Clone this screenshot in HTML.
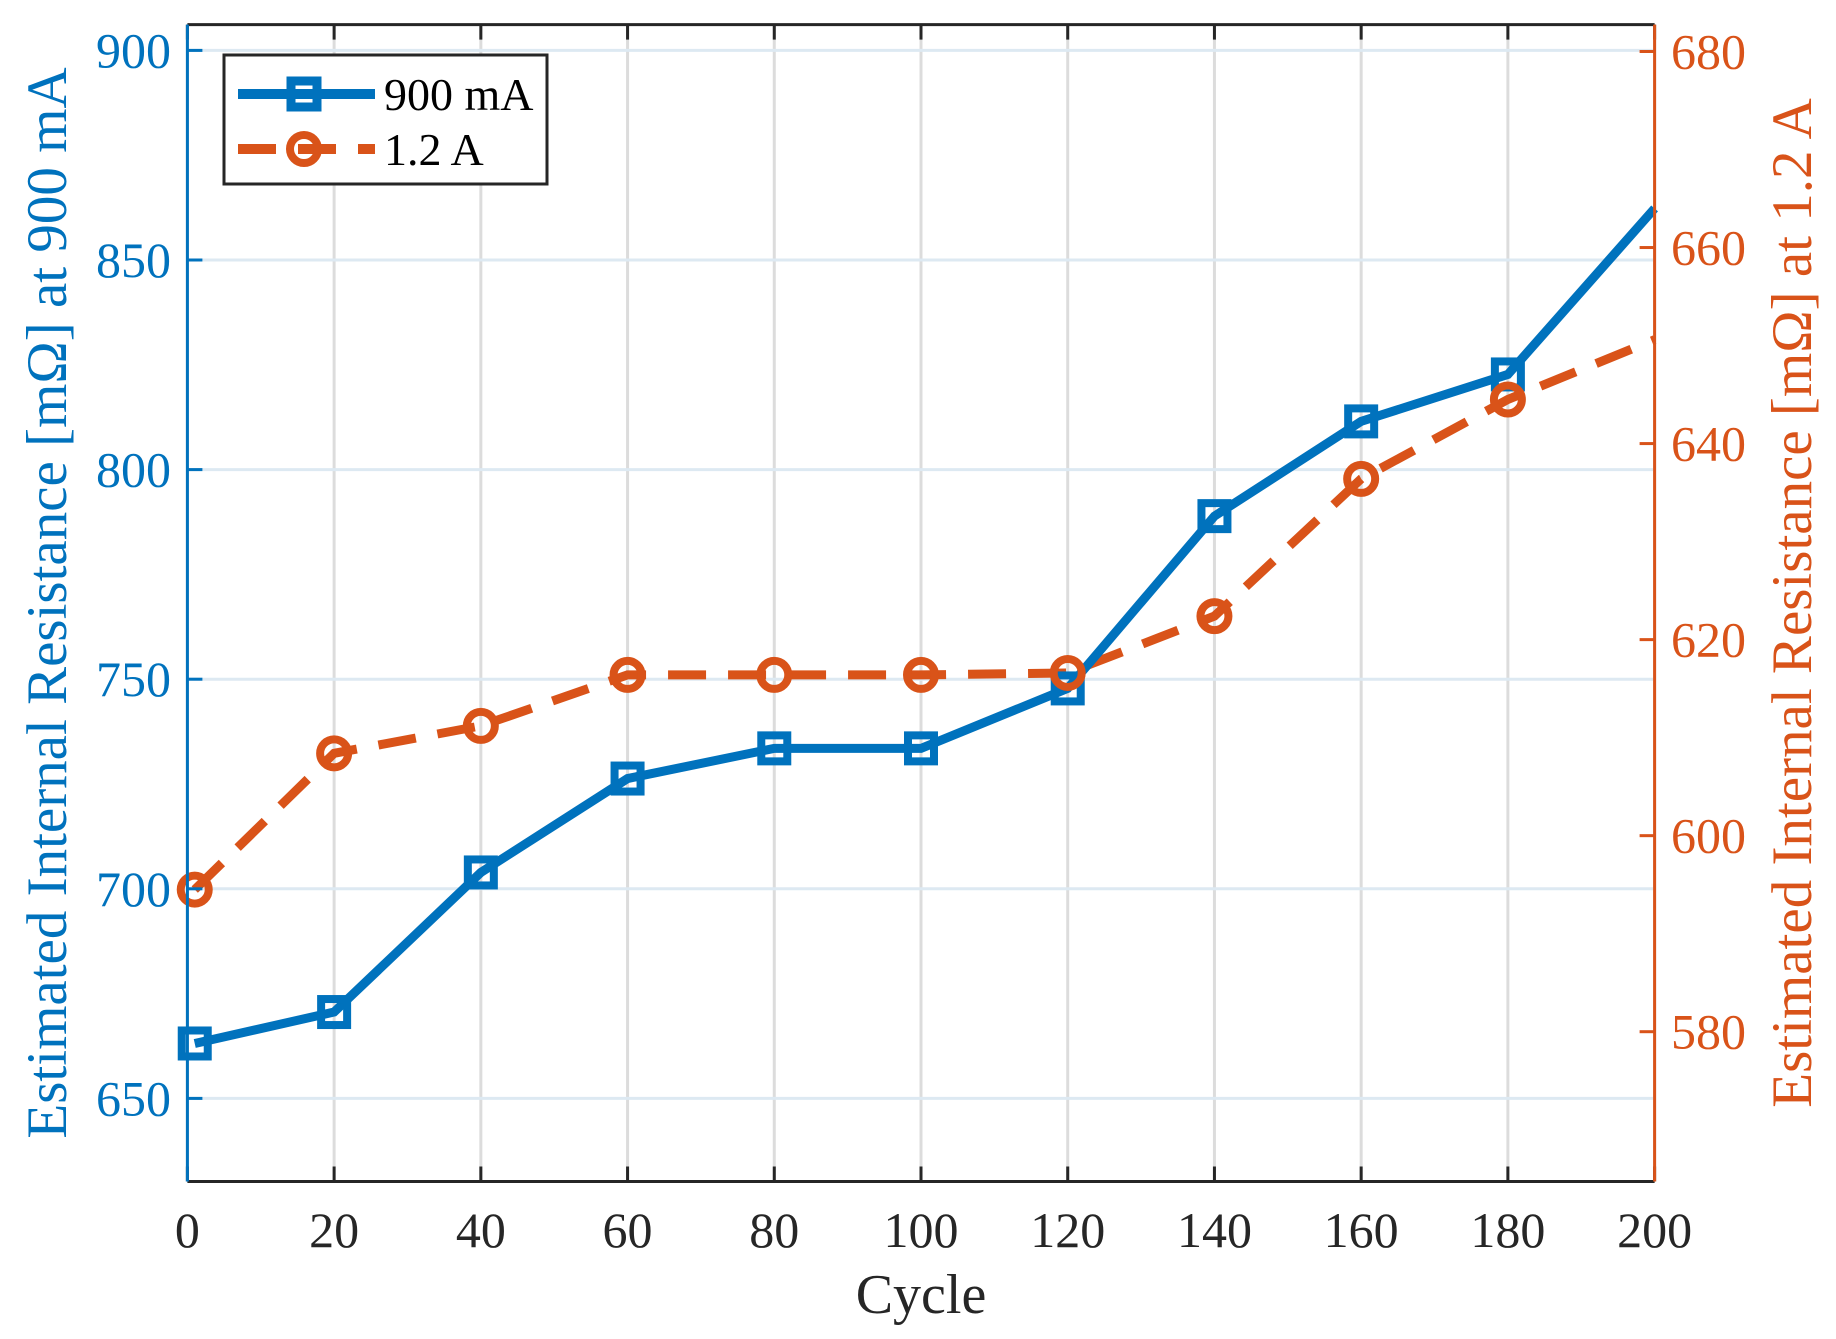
<!DOCTYPE html>
<html><head><meta charset="utf-8"><style>
html,body{margin:0;padding:0;background:#fff;}
svg{display:block;font-family:"Liberation Serif","DejaVu Serif",serif;}
</style></head><body>
<svg id="chart" width="1836" height="1339" viewBox="0 0 1836 1339" xmlns="http://www.w3.org/2000/svg">
<g id="grid"></g>
<g id="series"></g>
<g id="axes"></g>
<text x="921" y="1313" font-size="56" fill="#262626" text-anchor="middle">Cycle</text>
<text transform="translate(66,603) rotate(-90)" font-size="57" fill="#0072BD" text-anchor="middle">Estimated Internal Resistance [mΩ] at 900 mA</text>
<text transform="translate(1811,603) rotate(-90)" font-size="57" fill="#D95319" text-anchor="middle">Estimated Internal Resistance [mΩ] at 1.2 A</text>
<g>
<rect x="224" y="55" width="323" height="129" fill="#fff" stroke="#262626" stroke-width="3"/>
<line x1="238" y1="94" x2="375" y2="94" stroke="#0072BD" stroke-width="10"/>
<rect x="291" y="81" width="26" height="26" fill="none" stroke="#0072BD" stroke-width="9"/>
<text x="384" y="110" font-size="46" fill="#000">900 mA</text>
<line x1="238" y1="149" x2="375" y2="149" stroke="#D95319" stroke-width="10" stroke-dasharray="38,22"/>
<circle cx="304" cy="149" r="14" fill="none" stroke="#D95319" stroke-width="8"/>
<text x="384" y="165" font-size="46" fill="#000">1.2 A</text>
</g>
</svg>
<script>
const cycles=[1,20,40,60,80,100,120,140,160,180,200];
const r900=[663.1,670.6,703.9,726.3,733.5,733.5,747.8,788.9,811.5,822.7,862.3];
const r1200=[594.5,608.4,611.2,616.4,616.4,616.4,616.6,622.4,636.4,644.5,650.6];
const xTicks=[0,20,40,60,80,100,120,140,160,180,200];
const yLeftTicks=[650,700,750,800,850,900];
const yRightTicks=[580,600,620,640,660,680];
const NS="http://www.w3.org/2000/svg";
const L=187.4,R=1654.6,T=24.6,B=1181.5;
const xs=v=>L+(v-0)*(R-L)/200;
const yl=v=>50.4+(900-v)*4.192;
const yr=v=>1031.7-(v-580)*9.802;
function mk(tag,attrs,parent){const e=document.createElementNS(NS,tag);for(const k in attrs)e.setAttribute(k,attrs[k]);parent.appendChild(e);return e;}
const grid=document.getElementById('grid'),axes=document.getElementById('axes'),series=document.getElementById('series');
xTicks.forEach(t=>{
 const g=mk('line',{x1:xs(t),x2:xs(t),y1:T,y2:B,stroke:'#dcdcdc','stroke-width':3},grid);
 
 
 mk('line',{x1:xs(t),x2:xs(t),y1:B,y2:B-15,stroke:'#262626','stroke-width':3},axes);
 mk('line',{x1:xs(t),x2:xs(t),y1:T,y2:T+15,stroke:'#262626','stroke-width':3},axes);
 const tx=mk('text',{x:xs(t),y:1247,'font-size':50,fill:'#262626','text-anchor':'middle'},axes);
 tx.textContent=t;
 
 
});
yLeftTicks.forEach(t=>{
 const g=mk('line',{x1:L,x2:R,y1:yl(t),y2:yl(t),stroke:'#dde9f2','stroke-width':3},grid);
 
 
 mk('line',{x1:L,x2:L+15,y1:yl(t),y2:yl(t),stroke:'#0072BD','stroke-width':3},axes);
 const tx=mk('text',{x:171,y:yl(t)+17,'font-size':50,fill:'#0072BD','text-anchor':'end'},axes);
 tx.textContent=t;
 
 
});
yRightTicks.forEach(t=>{
 mk('line',{x1:R,x2:R-15,y1:yr(t),y2:yr(t),stroke:'#D95319','stroke-width':3},axes);
 const tx=mk('text',{x:1671,y:yr(t)+17,'font-size':50,fill:'#D95319','text-anchor':'start'},axes);
 tx.textContent=t;
 
 
});
mk('line',{x1:L,x2:R,y1:T,y2:T,stroke:'#262626','stroke-width':3},axes);
mk('line',{x1:L,x2:R,y1:B,y2:B,stroke:'#262626','stroke-width':3},axes);
mk('line',{x1:L,x2:L,y1:T,y2:B,stroke:'#0072BD','stroke-width':3},axes);
mk('line',{x1:R,x2:R,y1:T,y2:B,stroke:'#D95319','stroke-width':3},axes);
const p2=mk('polyline',{points:cycles.map((c,i)=>xs(c)+','+yr(r1200[i])).join(' '),fill:'none',stroke:'#D95319','stroke-width':9,'stroke-dasharray':'38,22'},series);


const p1=mk('polyline',{points:cycles.map((c,i)=>xs(c)+','+yl(r900[i])).join(' '),fill:'none',stroke:'#0072BD','stroke-width':9},series);


cycles.forEach((c,i)=>{
 if(c>=200)return;
 const s=mk('rect',{x:xs(c)-13,y:yl(r900[i])-13,width:26,height:26,fill:'none',stroke:'#0072BD','stroke-width':8},series);
 
 
 const ci=mk('circle',{cx:xs(c),cy:yr(r1200[i]),r:14,fill:'none',stroke:'#D95319','stroke-width':8},series);
 
 
});
</script>
</body></html>
